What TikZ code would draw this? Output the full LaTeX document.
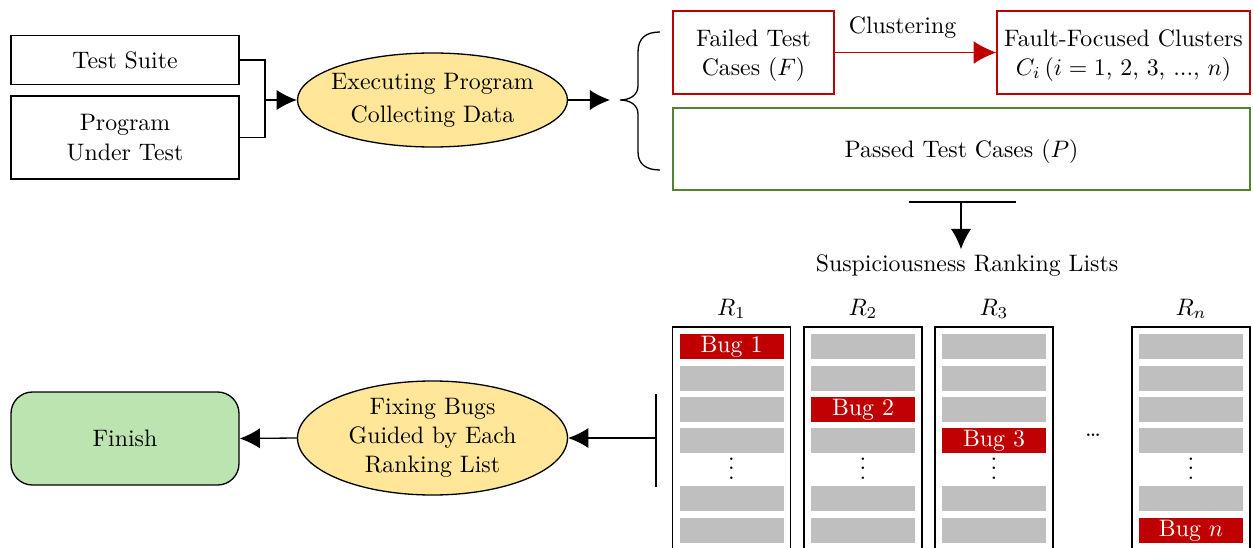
\documentclass[tikz,border=0pt]{standalone}
\usetikzlibrary{arrows.meta,shapes.geometric,calc}
\definecolor{bugred}{RGB}{192,0,0}
\definecolor{passgreen}{RGB}{84,130,53}
\definecolor{procfill}{RGB}{255,230,153}
\definecolor{donefill}{RGB}{187,228,177}
\definecolor{rowgray}{RGB}{191,191,191}
\newcommand\pxu{0.42pt}
\begin{document}
\begin{tikzpicture}[x=\pxu, y=-\pxu,
  wire/.style={line width=0.55pt},
  arr/.style={line width=0.55pt, -{Latex[length=8.5pt,width=8.5pt]}},
  bigarr/.style={line width=0.55pt, -{Latex[length=9.5pt,width=9.5pt]}},
  box/.style={draw, line width=0.55pt, inner sep=0pt, align=center},
  proc/.style={ellipse, draw, fill=procfill, line width=0.55pt, inner sep=0pt},
  lskip/.style={execute at begin node={\setlength{\baselineskip}{#1}}},
  rankrow/.style={fill=rowgray, inner sep=0pt, minimum width=104*\pxu, minimum height=25*\pxu},
  bugrow/.style={rankrow, fill=bugred, text=white},
  listframe/.style={draw, line width=0.8pt}]
\useasboundingbox (0,0) rectangle (1253,547);
\clip (0,0) rectangle (1253,547);

% inputs and execution
\node[box, minimum width=228*\pxu, minimum height=49*\pxu] (suite) at (125,60) {Test Suite};
\node[box, minimum width=228*\pxu, minimum height=83*\pxu, lskip=12.6pt] (put) at (125,137.5) {Program\\Under Test};
\coordinate (join) at (265,100);
\node[proc, minimum width=270*\pxu, minimum height=94*\pxu] (exec) at (432.5,100) {};
\node[align=center, lskip=14pt] (exectext) at (exec.center) {Executing Program\\Collecting Data};
\draw[wire] (suite.east) -| (join);
\draw[wire] (put.east) -| (join);
\draw[arr] (join) -- (exec.west);

% brace splitting the runs into failed and passed cases
\coordinate (brtip) at (620,100);
\draw[wire] (660,32) .. controls (646,32) and (638,38) .. (638,52)
  -- (638,86) .. controls (638,95) and (630,100) .. (brtip)
  .. controls (630,100) and (638,105) .. (638,114)
  -- (638,152) .. controls (638,164) and (646,170) .. (660,170);
\draw[arr] (exec.east) -- ([xshift=-10*\pxu]brtip);

\node[box, draw=bugred, minimum width=161*\pxu, minimum height=83*\pxu, text depth=0pt] (failed) at (753.5,52.5) {Failed Test\\Cases ($F$)};
\node[box, draw=bugred, minimum width=253*\pxu, minimum height=83*\pxu, text depth=0pt] (fault) at (1123.5,52.5) {Fault-Focused Clusters\\$C_i\,(i=1$, 2, 3, ..., $n)$};
\draw[bigarr, color=bugred] (failed.east) -- node[pos=0.42, above, yshift=2.5pt, text=black] {Clustering} (fault.west);
\node[box, draw=passgreen, minimum width=577*\pxu, minimum height=82*\pxu, text depth=0pt] (passed) at (961.5,149) {Passed Test Cases ($P$)};

% ranking lists
\coordinate (barL) at (909,202);
\coordinate (barR) at (1016,202);
\coordinate (barM) at (961,202);
\draw[wire] (barL) -- (barR);
\node[inner sep=2.3pt] (srl) at (967,266) {Suspiciousness Ranking Lists};
\draw[arr] (barM) -- (barM |- srl.north);

\foreach \n/\cx/\lab/\b/\bt in {1/731.5/$R_1$/1/Bug 1, 2/863/$R_2$/3/Bug 2, 3/994/$R_3$/4/Bug 3, n/1191/$R_n$/6/Bug $n$}{
  \draw[listframe] (\cx-59,327) rectangle (\cx+59,590);
  \node (R\n) at (\cx,309) {\lab};
  \foreach \r/\y in {1/346.5, 2/378, 3/409.5, 4/440.5, 5/498.5, 6/530.5}{
    \ifnum\r=\b
      \node[bugrow] (L\n-\r) at (\cx,\y) {\bt};
    \else
      \node[rankrow] (L\n-\r) at (\cx,\y) {};
    \fi
  }
  \node[inner sep=0pt, text height=8.5pt, text depth=0pt] (L\n-dots) at (\cx,469) {$\vdots$};
}
\node (more) at (1093,435) {\dots};

% bug fixing
\coordinate (vt) at (656,394);
\coordinate (vb) at (656,487);
\coordinate (vm) at (656,438);
\draw[wire] (vt) -- (vb);
\node[proc, minimum width=270*\pxu, minimum height=114*\pxu] (fix) at (432.5,438) {};
\node[align=center, lskip=12.2pt] (fixtext) at (fix.center) {Fixing Bugs\\Guided by Each\\Ranking List};
\node[box, fill=donefill, rounded corners=9pt, minimum width=228*\pxu, minimum height=93*\pxu] (finish) at (125,438.5) {Finish};
\draw[arr] (vm) -- (fix.east);
\draw[arr] (fix.west) -- (finish.east);
\end{tikzpicture}
\end{document}
